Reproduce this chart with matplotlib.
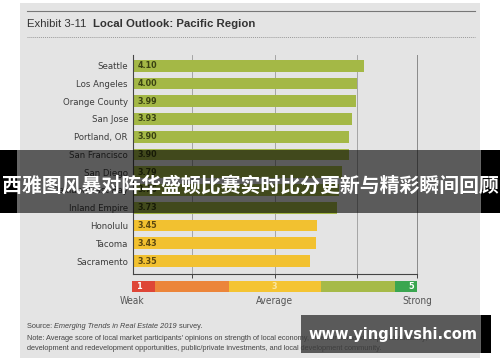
import matplotlib
matplotlib.use('Agg')
import matplotlib.pyplot as plt
from matplotlib.patches import Rectangle
from matplotlib.lines import Line2D
from matplotlib.text import Annotation

cities = ['Seattle', 'Los Angeles', 'Orange County', 'San Jose', 'Portland, OR',
          'San Francisco', 'San Diego', 'Oakland/East Bay', 'Inland Empire',
          'Honolulu', 'Tacoma', 'Sacramento']
scores = [4.10, 4.00, 3.99, 3.93, 3.90, 3.90, 3.79, 3.76, 3.73, 3.45, 3.43, 3.35]
scale_marks = ['1', '3', '5']
scale_words = ['Weak', 'Average', 'Strong']
title_plain = 'Exhibit 3-11  '
title_bold = 'Local Outlook: Pacific Region'
banner = '西雅图风暴对阵华盛顿比赛实时比分更新与精彩瞬间回顾'
watermark = 'www.yinglilvshi.com'

W, H = 500, 362
NARROW = dict(family='DejaVu Sans', stretch='condensed')
SANS = 'Liberation Sans'


def fx(x):
    return x / W


def fy(y):
    return 1 - y / H


fig = plt.figure(figsize=(5, 3.62), dpi=100)
fig.patch.set_facecolor('white')

# grey panel behind everything
fig.add_artist(Rectangle((fx(20), fy(358)), fx(460), 355 / H, transform=fig.transFigure,
                         facecolor='#e4e4e4', edgecolor='none', zorder=-5))

# header
fig.add_artist(Line2D([fx(27), fx(475)], [fy(11), fy(11)], color='#777777', lw=0.8))
fig.add_artist(Line2D([fx(27), fx(475)], [fy(37), fy(37)], color='#9a9a9a', lw=0.7,
                      linestyle=(0, (1, 1))))
t1 = fig.text(fx(27), fy(24), title_plain, fontsize=8.2, color='#333333', va='center',
              family=SANS)
fig.add_artist(Annotation(title_bold, xy=(1, 0), xycoords=t1, va='bottom', fontsize=8.2,
                          color='#333333', fontweight='bold', family=SANS))

# main bars
ax = fig.add_axes([fx(133), fy(274), fx(417 - 133), (274 - 55) / H])
ax.patch.set_alpha(0)
y = list(range(len(cities)))
colors = ['#a4b846' if s >= 3.5 else '#f2c130' for s in scores]
ax.barh(y, scores, height=0.66, color=colors, zorder=2)
x0, x1 = 0.89, 4.84
ax.set_xlim(x0, x1)
ax.set_ylim(len(cities) - 1 + 0.73, -0.6)
grid = [1.71, 2.86, 4.0]
for g in grid:
    ax.axvline(g, color='#9a9a9a', lw=0.6, zorder=1)
for i, s in enumerate(scores):
    ax.text(x0 + 0.06, i, f'{s:.2f}', va='center', ha='left', fontsize=6.4,
            fontweight='bold', color='#3a4212' if s >= 3.5 else '#5c4810', zorder=3,
            **NARROW)
ax.set_yticks(y, cities)
ax.tick_params(axis='y', length=0, pad=3.6, labelsize=6.8, labelcolor='#3c3c3c')
for lab in ax.get_yticklabels():
    lab.set_family('DejaVu Sans')
    lab.set_stretch('condensed')
ax.set_xticks(grid + [x1])
ax.set_xticklabels([])
ax.tick_params(axis='x', length=3, width=0.7, color='#444444')
ax.spines['top'].set_visible(False)
ax.spines['left'].set_color('#444444')
ax.spines['bottom'].set_color('#444444')
ax.spines['left'].set_linewidth(0.8)
ax.spines['bottom'].set_linewidth(0.8)
ax.spines['right'].set_color('#8a8a8a')
ax.spines['right'].set_linewidth(0.7)

# colour scale legend
lax = fig.add_axes([fx(132), fy(292), fx(285), 11 / H])
lax.set_xlim(0, 1)
lax.set_ylim(0, 1)
lax.axis('off')
bounds = [0, 0.081, 0.34, 0.663, 0.923, 1]
seg_colors = ['#de4637', '#ec853a', '#f4c432', '#a6ba48', '#3aa650']
for a, b, c in zip(bounds[:-1], bounds[1:], seg_colors):
    lax.add_patch(Rectangle((a, 0), b - a, 1, facecolor=c, edgecolor='none'))
mark_pos = [0.025, 0.5, 0.98]
mark_col = ['white', '#fbe7a0', 'white']
for m, p, c in zip(scale_marks, mark_pos, mark_col):
    lax.text(p, 0.5, m, ha='center', va='center', fontsize=6.5, fontweight='bold',
             color=c, **NARROW)
for w_, p in zip(scale_words, [0, 0.5, 1]):
    fig.text(fx(132 + p * 285), fy(301), w_, ha='center', va='center', fontsize=7.2,
             color='#555555', **NARROW)

# source and note
s1 = fig.text(fx(27), fy(326), 'Source: ', fontsize=5.3, color='#444444', va='center',
              family=SANS)
s2 = fig.add_artist(Annotation('Emerging Trends in Real Estate 2019', xy=(1, 0), xycoords=s1,
                               va='bottom', fontsize=5.3, color='#444444', style='italic',
                               family=SANS))
fig.add_artist(Annotation(' survey.', xy=(1, 0), xycoords=s2, va='bottom', fontsize=5.3,
                          color='#444444', family=SANS))
fig.text(fx(27), fy(339), "Note: Average score of local market participants' opinions on strength "
         "of local economy, investor demand, capital availability,", fontsize=5.3,
         color='#444444', va='center', family=SANS)
fig.text(fx(27), fy(348), 'development and redevelopment opportunities, public/private '
         'investments, and local development community.', fontsize=5.3,
         color='#444444', va='center', family=SANS)

# overlays on top of the picture
fig.add_artist(Rectangle((0, fy(213)), 1, 63 / H, transform=fig.transFigure,
                         facecolor='black', alpha=0.6, edgecolor='none', zorder=10))
fig.add_artist(Rectangle((0, fy(213)), fx(17), 63 / H, transform=fig.transFigure,
                         facecolor='black', edgecolor='none', zorder=10))
fig.add_artist(Rectangle((fx(481), fy(213)), fx(19), 63 / H, transform=fig.transFigure,
                         facecolor='black', edgecolor='none', zorder=10))
fig.text(0.5, fy(185), banner, ha='center', va='center', fontsize=14.3, fontweight='bold',
         color='white', family=['Noto Sans CJK SC', 'DejaVu Sans'], zorder=11)

fig.add_artist(Rectangle((fx(301), fy(353)), fx(180), 38 / H, transform=fig.transFigure,
                         facecolor='#3c3c3c', alpha=0.82, edgecolor='none', zorder=10))
fig.add_artist(Rectangle((fx(481), fy(353)), fx(10), 38 / H, transform=fig.transFigure,
                         facecolor='black', edgecolor='none', zorder=10))
fig.text(fx(393), fy(334), watermark, ha='center', va='center', fontsize=10.5,
         fontweight='bold', color='white', family='DejaVu Sans', zorder=11)

fig.savefig('out.png', dpi=100)
